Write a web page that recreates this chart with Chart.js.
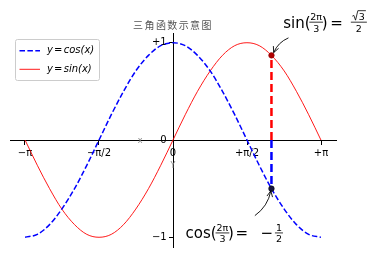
<!DOCTYPE html>
<html>
<head>
<meta charset="utf-8">
<script src="https://cdn.jsdelivr.net/npm/chart.js@4/dist/chart.umd.min.js"></script>
<style>
html,body{margin:0;padding:0;background:#fff;}
#wrap{width:375px;height:256px;position:relative;}
</style>
</head>
<body>
<div id="wrap"><canvas id="c" width="375" height="256"></canvas></div>
<script>
// ---- data ----
const xVals = [-3.14, -2.88, -2.62, -2.36, -2.09, -1.83, -1.57, -1.31, -1.05, -0.79, -0.52, -0.26, 0,
               0.26, 0.52, 0.79, 1.05, 1.31, 1.57, 1.83, 2.09, 2.36, 2.62, 2.88, 3.14];
const cosVals = [-1, -0.97, -0.87, -0.71, -0.5, -0.26, 0, 0.26, 0.5, 0.71, 0.87, 0.97, 1,
                 0.97, 0.87, 0.71, 0.5, 0.26, 0, -0.26, -0.5, -0.71, -0.87, -0.97, -1];
const sinVals = [0, -0.26, -0.5, -0.71, -0.87, -0.97, -1, -0.97, -0.87, -0.71, -0.5, -0.26, 0,
                 0.26, 0.5, 0.71, 0.87, 0.97, 1, 0.97, 0.87, 0.71, 0.5, 0.26, 0];
const seriesLabels = ['y = cos(x)', 'y = sin(x)'];
const tVal = 2.09;      // 2π/3
const sinT = 0.87;
const cosT = -0.5;
const xTickVals = [-3.1416, -1.5708, 0, 1.5708, 3.1416];
const xTickLabels = ['\u2212\u03c0', '\u2212\u03c0/2', '0', '+\u03c0/2', '+\u03c0'];
const yTickVals = [-1, 0, 1];
const yTickLabels = ['\u22121', '0', '+1'];
const titleText = '三角函数示意图';
const xRange = [-3.46, 3.46];
const yRange = [-1.1, 1.1];

const cosPts = xVals.map((x, i) => ({x: x, y: cosVals[i]}));
const sinPts = xVals.map((x, i) => ({x: x, y: sinVals[i]}));

const FONT = '"DejaVu Sans", sans-serif';

function drawArrow(ctx, a, b, rad) {
  const mx = (a.x + b.x) / 2, my = (a.y + b.y) / 2;
  const dx = b.x - a.x, dy = b.y - a.y;
  const cx = mx - rad * dy, cy = my + rad * dx;
  ctx.save();
  ctx.strokeStyle = '#000';
  ctx.lineWidth = 0.9;
  ctx.beginPath();
  ctx.moveTo(a.x, a.y);
  ctx.quadraticCurveTo(cx, cy, b.x, b.y);
  ctx.stroke();
  const ang = Math.atan2(b.y - cy, b.x - cx);
  const L = 6.5, w = 0.45;
  ctx.beginPath();
  ctx.moveTo(b.x - L * Math.cos(ang - w), b.y - L * Math.sin(ang - w));
  ctx.lineTo(b.x, b.y);
  ctx.lineTo(b.x - L * Math.cos(ang + w), b.y - L * Math.sin(ang + w));
  ctx.stroke();
  ctx.restore();
}

function frac(ctx, cxp, base, num, den, opts) {
  const fs = 9.5;
  ctx.font = fs + 'px ' + FONT;
  ctx.textAlign = 'center';
  ctx.textBaseline = 'alphabetic';
  const bar = base - 5.5;
  const nw = ctx.measureText(num).width, dw = ctx.measureText(den).width;
  let w = Math.max(nw, dw) + 2;
  if (opts && opts.sqrtNum) w = Math.max(w, nw + 10);
  ctx.fillStyle = '#000';
  ctx.strokeStyle = '#000';
  ctx.lineWidth = 0.8;
  ctx.beginPath();
  ctx.moveTo(cxp - w / 2, bar);
  ctx.lineTo(cxp + w / 2, bar);
  ctx.stroke();
  if (opts && opts.sqrtNum) {
    const nx = cxp + 3;
    const nb = bar - 2;
    ctx.fillText(num, nx, nb);
    const left = nx - nw / 2 - 6.5;
    const top = nb - 9.5;
    ctx.beginPath();
    ctx.moveTo(left, nb - 4);
    ctx.lineTo(left + 1.5, nb - 4.8);
    ctx.lineTo(left + 3.2, nb);
    ctx.lineTo(left + 5.5, top);
    ctx.lineTo(nx + nw / 2 + 1, top);
    ctx.stroke();
  } else {
    ctx.fillText(num, cxp, bar - 2);
  }
  ctx.fillText(den, cxp, bar + 9.5);
}

const decor = {
  id: 'decor',
  afterDatasetsDraw(chart) {
    const ctx = chart.ctx;
    const xs = chart.scales.x, ys = chart.scales.y;
    const area = chart.chartArea;
    ctx.save();
    // title
    ctx.font = '10px "Noto Sans CJK SC", sans-serif';
    ctx.letterSpacing = '1.4px';
    ctx.fillStyle = '#555';
    ctx.textAlign = 'center';
    ctx.textBaseline = 'middle';
    ctx.fillText(titleText, (area.left + area.right) / 2, 25);
    ctx.letterSpacing = '0px';

    // small axis name glyphs near origin
    const ox = xs.getPixelForValue(0), oy = ys.getPixelForValue(0);
    ctx.font = '8px ' + FONT;
    ctx.fillStyle = '#888';
    ctx.fillText('x', ox - 33, oy + 0.5);
    ctx.fillText('Y', ox, oy + 26);

    // legend
    const lx = 15.5, ly = 39.5, lw = 84, lh = 41;
    ctx.fillStyle = 'rgba(255,255,255,0.85)';
    ctx.strokeStyle = '#cccccc';
    ctx.lineWidth = 1;
    ctx.beginPath();
    ctx.roundRect(lx, ly, lw, lh, 2);
    ctx.fill();
    ctx.stroke();
    [0, 1].forEach((di, k) => {
      const ds = chart.data.datasets[di];
      const yy = 50.7 + k * 18.6;
      ctx.strokeStyle = ds.borderColor;
      ctx.lineWidth = ds.borderWidth;
      ctx.setLineDash(ds.borderDash || []);
      ctx.beginPath();
      ctx.moveTo(19.5, yy);
      ctx.lineTo(40, yy);
      ctx.stroke();
      ctx.setLineDash([]);
      const parts = ds.label.split(' = ');
      ctx.fillStyle = '#000';
      ctx.textAlign = 'left';
      ctx.textBaseline = 'middle';
      let x = 47;
      ctx.font = 'italic 10px ' + FONT;
      ctx.fillText(parts[0], x, yy);
      x += ctx.measureText(parts[0]).width + 1.2;
      ctx.font = '10px ' + FONT;
      ctx.fillText('=', x, yy);
      x += ctx.measureText('=').width + 1.2;
      ctx.font = 'italic 10px ' + FONT;
      ctx.fillText(parts[1], x, yy);
    });

    // annotations
    const px = xs.getPixelForValue(tVal);
    const pys = ys.getPixelForValue(sinT);
    const pyc = ys.getPixelForValue(cosT);

    // sin annotation
    let sx = px + 11.7, sb = pys - 27.7;
    ctx.fillStyle = '#000';
    ctx.textAlign = 'left';
    ctx.textBaseline = 'alphabetic';
    ctx.font = '15px ' + FONT;
    ctx.fillText('sin(', sx, sb);
    frac(ctx, sx + 33, sb, '2\u03c0', '3');
    ctx.font = '15px ' + FONT;
    ctx.textAlign = 'left';
    ctx.fillText(')', sx + 38.5, sb);
    ctx.fillText('=', sx + 47, sb);
    frac(ctx, sx + 75.7, sb, '3', '2', {sqrtNum: true});
    drawArrow(ctx, {x: px + 17, y: pys - 17.5}, {x: px + 2.2, y: pys - 2.8}, 0.2);

    // cos annotation
    let cx = px - 86, cb = pyc + 49.8;
    ctx.font = '15px ' + FONT;
    ctx.textAlign = 'left';
    ctx.fillText('cos(', cx, cb);
    frac(ctx, cx + 37, cb, '2\u03c0', '3');
    ctx.font = '15px ' + FONT;
    ctx.textAlign = 'left';
    ctx.fillText(')', cx + 42.5, cb);
    ctx.fillText('=', cx + 50, cb);
    ctx.fillText('\u2212', cx + 75, cb);
    frac(ctx, cx + 93.5, cb, '1', '2');
    drawArrow(ctx, {x: px - 16.6, y: pyc + 27}, {x: px - 0.6, y: pyc + 2.2}, 0.2);

    ctx.restore();
  }
};

const tickCommon = {
  autoSkip: false, maxRotation: 0, minRotation: 0,
  font: {size: 10, family: 'DejaVu Sans'}, color: '#000', padding: 3,
  showLabelBackdrop: true, backdropColor: 'rgba(255,255,255,0.65)', backdropPadding: 1
};

new Chart(document.getElementById('c'), {
  type: 'line',
  data: {
    datasets: [
      {label: seriesLabels[0], data: cosPts, borderColor: '#0000ff', borderWidth: 1.5,
       borderDash: [5.5, 2.4], pointRadius: 0, cubicInterpolationMode: 'monotone', fill: false, order: 3},
      {label: seriesLabels[1], data: sinPts, borderColor: '#ff0000', borderWidth: 0.9,
       pointRadius: 0, cubicInterpolationMode: 'monotone', fill: false, order: 4},
      {label: 'sinLine', data: [{x: tVal, y: 0}, {x: tVal, y: sinT}], borderColor: '#ff0000',
       borderWidth: 2.5, borderDash: [8, 4], pointRadius: 0, fill: false, order: 2},
      {label: 'cosLine', data: [{x: tVal, y: 0}, {x: tVal, y: cosT}], borderColor: '#0000ff',
       borderWidth: 2.5, borderDash: [8, 4], pointRadius: 0, fill: false, order: 2},
      {label: 'sinPt', data: [{x: tVal, y: sinT}], showLine: false, pointRadius: 2.8,
       pointBackgroundColor: '#b00000', pointBorderColor: '#8a0000', pointBorderWidth: 0.5, order: 1},
      {label: 'cosPt', data: [{x: tVal, y: cosT}], showLine: false, pointRadius: 2.8,
       pointBackgroundColor: '#151540', pointBorderColor: '#000000', pointBorderWidth: 0.5, order: 1}
    ]
  },
  options: {
    responsive: false,
    animation: false,
    devicePixelRatio: 1,
    layout: {padding: {left: 10, right: 39, top: 33, bottom: 9}},
    plugins: {legend: {display: false}, tooltip: {enabled: false}, title: {display: false}},
    scales: {
      x: {
        type: 'linear', position: {y: 0}, min: xRange[0], max: xRange[1],
        afterBuildTicks: s => { s.ticks = xTickVals.map(v => ({value: v})); },
        ticks: Object.assign({}, tickCommon, {callback: (v, i) => xTickLabels[i]}),
        grid: {drawOnChartArea: false, drawTicks: true, tickLength: 4, color: '#000', lineWidth: 1},
        border: {display: true, color: '#000', width: 1}
      },
      y: {
        type: 'linear', position: {x: 0}, min: yRange[0], max: yRange[1],
        afterBuildTicks: s => { s.ticks = yTickVals.map(v => ({value: v})); },
        ticks: Object.assign({}, tickCommon, {showLabelBackdrop: false, callback: (v, i) => yTickLabels[i] + '  '}),
        grid: {drawOnChartArea: false, drawTicks: true, tickLength: 4, color: '#000', lineWidth: 1},
        border: {display: true, color: '#000', width: 1}
      }
    }
  },
  plugins: [decor]
});
</script>
</body>
</html>
